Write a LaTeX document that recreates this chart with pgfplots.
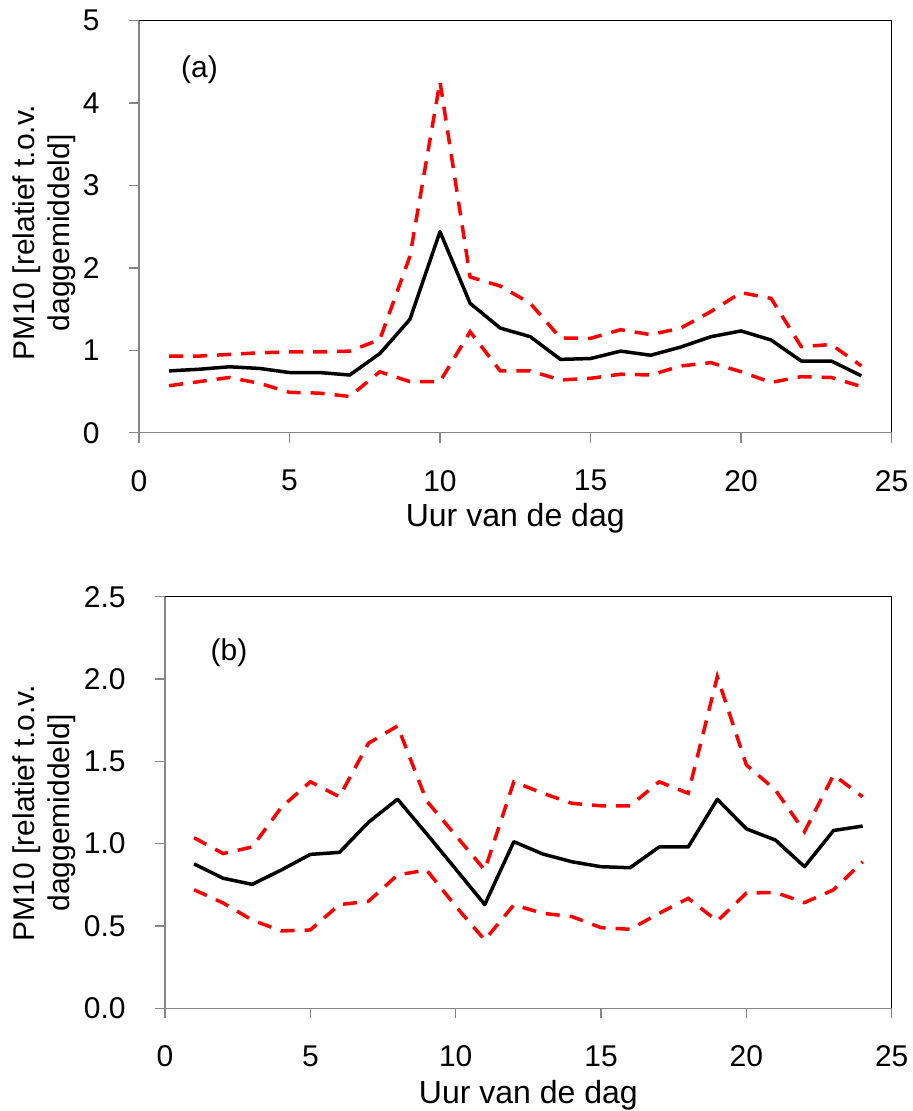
\documentclass[border=0pt]{standalone}
\usepackage{fontspec}
\setmainfont{Liberation Sans}
\usepackage{pgfplots}
\usepackage{pgfplotstable}
\pgfplotsset{compat=1.18}

\definecolor{axgray}{RGB}{134,134,134}
\definecolor{pmred}{RGB}{255,0,0}

% (a): uurgemiddelde en band
\pgfplotstableread{
uur gem   hoog  laag
1   0.75  0.93  0.57
2   0.77  0.93  0.62
3   0.80  0.95  0.67
4   0.78  0.97  0.60
5   0.73  0.98  0.49
6   0.73  0.98  0.48
7   0.70  0.99  0.44
8   0.96  1.13  0.74
9   1.375 2.14  0.62
10  2.44  4.26  0.62
11  1.57  1.89  1.226
12  1.27  1.78  0.75
13  1.165 1.57  0.75
14  0.89  1.15  0.64
15  0.90  1.145 0.66
16  0.99  1.25  0.71
17  0.94  1.19  0.70
18  1.04  1.27  0.81
19  1.165 1.47  0.85
20  1.235 1.70  0.74
21  1.125 1.63  0.61
22  0.87  1.045 0.68
23  0.87  1.07  0.67
24  0.69  0.81  0.56
}\dataa

% (b)
\pgfplotstableread{
uur gem   hoog  laag
1   0.877 1.036 0.72
2   0.79  0.94  0.64
3   0.753 0.98  0.536
4   0.84  1.22  0.47
5   0.935 1.376 0.476
6   0.947 1.285 0.63
7   1.13  1.61  0.65
8   1.27  1.715 0.81
9   1.06  1.26  0.84
10  0.846 1.05  0.62
11  0.63  0.84  0.415
12  1.012 1.376 0.628
13  0.937 1.306 0.577
14  0.89  1.245 0.557
15  0.86  1.23  0.49
16  0.854 1.23  0.48
17  0.98  1.376 0.577
18  0.98  1.306 0.668
19  1.27  2.014 0.53
20  1.09  1.478 0.70
21  1.022 1.326 0.704
22  0.86  1.073 0.642
23  1.08  1.417 0.72
24  1.107 1.285 0.89
}\datab

\pgfplotsset{
  uurpanel/.style={
    scale only axis,
    xmin=0, xmax=25, xtick={0,5,...,25},
    font=\fontsize{15pt}{17.5pt}\selectfont,
    /pgf/number format/assume math mode=true,
    axis line style={black, line width=0.5pt},
    tick align=outside, major tick length=5pt,
    tick style={axgray, line width=0.75pt},
    xtick pos=lower, ytick pos=left,
    xticklabel style={anchor=north, inner sep=0pt, yshift=-13.5pt},
    yticklabel style={anchor=east, inner sep=0pt, xshift=-14.5pt},
    xlabel={Uur van de dag},
    ylabel={PM10 [relatief t.o.v.\\daggemiddeld]},
    clip=false,
  },
  gem/.style={black, line width=1.75pt, line join=round},
  band/.style={pmred, line width=1.75pt, dash pattern=on 7pt off 5pt},
}

\begin{document}
\begin{tikzpicture}
\useasboundingbox (0,0) rectangle (456pt,-555.5pt);

\begin{axis}[uurpanel,
  at={(69.5pt,-216.35pt)}, anchor=south west,
  width=376.25pt, height=206pt,
  ymin=0, ymax=5, ytick={0,1,...,5},
  xlabel style={at={(axis description cs:0.5,-0.1706)}, anchor=north, inner sep=0pt,
    font=\fontsize{16pt}{18pt}\selectfont},
  ylabel style={at={(axis description cs:-0.1688,0.485)}, anchor=north, align=center, inner sep=0pt},
]
\addplot[band] table[x=uur, y=hoog] {\dataa};
\addplot[band] table[x=uur, y=laag] {\dataa};
\addplot[gem] table[x=uur, y=gem] {\dataa};
\draw[axgray, line width=0.75pt] (rel axis cs:0,1) -- (rel axis cs:0,0) -- (rel axis cs:1,0);
\node at (axis cs:2.01,4.40) {(a)};
\end{axis}

\begin{axis}[uurpanel,
  at={(82.5pt,-504.15pt)}, anchor=south west,
  width=363.35pt, height=205.8pt,
  ymin=0, ymax=2.5, ytick={0,0.5,...,2.5},
  yticklabel style={/pgf/number format/.cd, fixed, fixed zerofill, precision=1},
  xlabel style={at={(axis description cs:0.5,-0.1742)}, anchor=north, inner sep=0pt,
    font=\fontsize{16pt}{18pt}\selectfont},
  ylabel style={at={(axis description cs:-0.2105,0.4745)}, anchor=north, align=center, inner sep=0pt},
]
\addplot[band] table[x=uur, y=hoog] {\datab};
\addplot[band] table[x=uur, y=laag] {\datab};
\addplot[gem] table[x=uur, y=gem] {\datab};
\draw[axgray, line width=0.75pt] (rel axis cs:0,1) -- (rel axis cs:0,0) -- (rel axis cs:1,0);
\node at (axis cs:2.20,2.157) {(b)};
\end{axis}
\end{tikzpicture}
\end{document}
